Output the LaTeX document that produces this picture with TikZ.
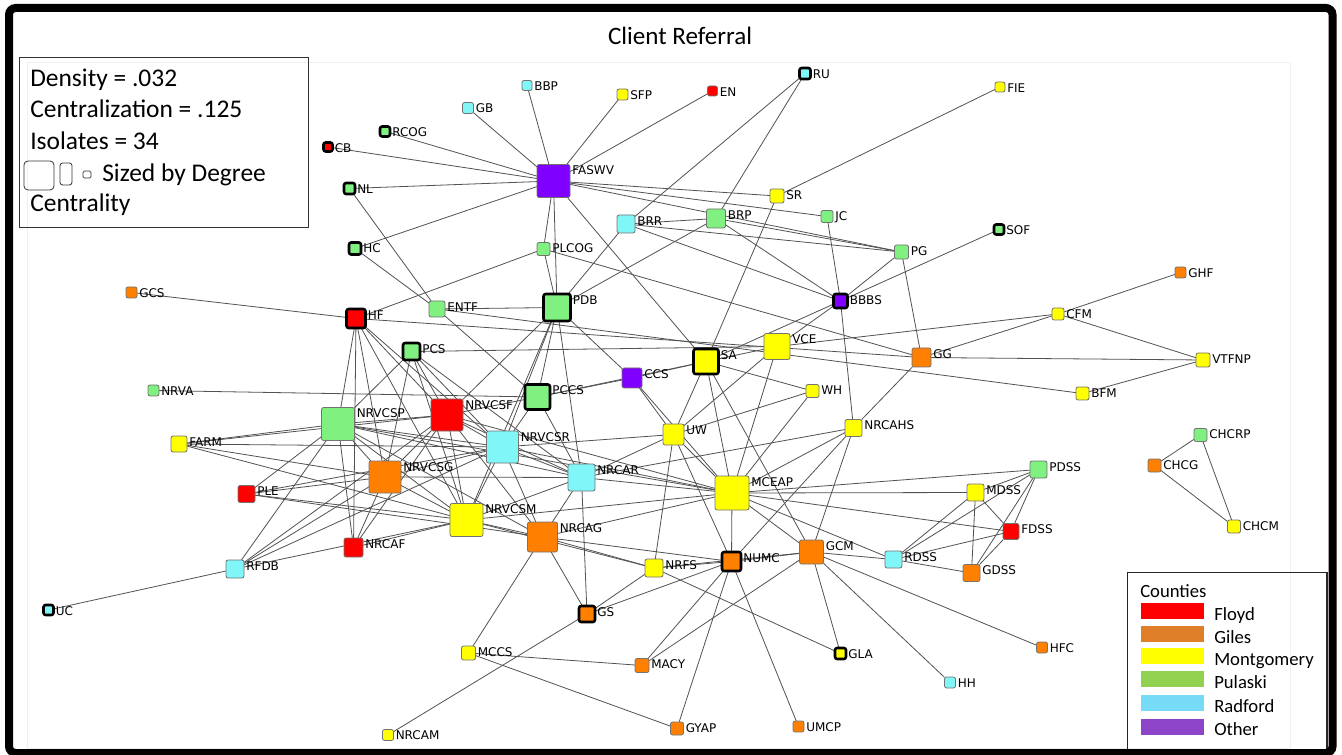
\documentclass[tikz,border=0pt]{standalone}
\usepackage{fontspec}
\setmainfont{Carlito}
\newfontfamily\labelfont{DejaVu Sans}
\usetikzlibrary{calc}
\pgfdeclarelayer{paper}
\pgfdeclarelayer{edges}
\pgfsetlayers{paper,edges,main}

% county fills of the agency squares
\definecolor{nFloyd}{HTML}{FF0000}
\definecolor{nGiles}{HTML}{FF8000}
\definecolor{nMont}{HTML}{FFFF00}
\definecolor{nPulaski}{HTML}{80F080}
\definecolor{nRadford}{HTML}{80F6F8}
\definecolor{nOther}{HTML}{8000FF}
% legend swatches
\definecolor{kFloyd}{HTML}{FF0000}
\definecolor{kGiles}{HTML}{DE7E28}
\definecolor{kMont}{HTML}{FFFF00}
\definecolor{kPulaski}{HTML}{92D050}
\definecolor{kRadford}{HTML}{75DBF7}
\definecolor{kOther}{HTML}{8E44C8}

\tikzset{
  agent/.style={rectangle, inner sep=0pt, outer sep=0pt, rounded corners=1.6pt,
                draw=black!55, line width=0.6pt},
  hub/.style={draw=black, line width=1.9pt},
  fl/.style={fill=nFloyd}, gi/.style={fill=nGiles}, mo/.style={fill=nMont},
  pu/.style={fill=nPulaski}, ra/.style={fill=nRadford}, ot/.style={fill=nOther},
  lbl/.style={anchor=north west, inner sep=0pt, font=\labelfont\fontsize{9}{9}\selectfont,
              text height=6.6pt, text depth=0pt},
  tie/.style={draw=black!68, line width=0.6pt},
  stat/.style={anchor=base west, inner sep=0pt, font=\fontsize{19.1}{22}\selectfont},
  keytext/.style={anchor=base west, inner sep=0pt, font=\fontsize{14}{16}\selectfont},
  swatch/.style={rectangle, inner sep=0pt, minimum width=47.25pt, minimum height=12pt},
  sizer/.style={rectangle, draw=black!80, line width=0.6pt, inner sep=0pt},
}

% agency square with its name printed to the upper right
\newcommand\agency[5]{%
  \node[agent,#5,minimum size=#4*0.75pt] (#1) at (#2,#3) {};
  \node[lbl] (#1-lab) at ($(#1.north east)+(2,1)$) {#1};
}

\begin{document}
\begin{tikzpicture}[x=0.75pt,y=-0.75pt]
\useasboundingbox (0,0) rectangle (1342,755);
\begin{pgfonlayer}{paper}
\fill[white] (0,0) rectangle (1342,755);
\draw[black!6, line width=0.6pt] (27,62) rectangle (1290,748);
\end{pgfonlayer}

% title
\node[anchor=base, inner sep=0pt, font=\fontsize{18.8}{22}\selectfont] (title) at (680,45) {Client Referral};

% ---------- agencies ----------
\agency{FASWV}{553.5}{181}{33}{ot}
\agency{BBP}{527}{85.5}{10}{ra}
\agency{GB}{468}{108}{11}{ra}
\agency{SFP}{622.5}{94.5}{11}{mo}
\agency{EN}{712.5}{91}{10}{fl}
\agency{RU}{805}{73.5}{11}{ra,hub}
\agency{FIE}{1000}{87}{10}{mo}
\agency{RCOG}{385}{131.5}{10}{pu,hub}
\agency{CB}{328}{147}{9}{fl,hub}
\agency{NL}{349.5}{188.5}{11}{pu,hub}
\agency{SR}{777}{196}{14}{mo}
\agency{JC}{827}{216.5}{12}{pu}
\agency{BRR}{626}{224}{18}{ra}
\agency{BRP}{716}{218.5}{19}{pu}
\agency{PLCOG}{543.5}{249}{13}{pu}
\agency{HC}{355}{248.5}{12}{pu,hub}
\agency{SOF}{999}{229.5}{10}{pu,hub}
\agency{PG}{901.5}{252}{14}{pu}
\agency{GHF}{1180.5}{272.5}{11}{gi}
\agency{GCS}{131.5}{292.5}{11}{gi}
\agency{PDB}{557}{307.5}{27}{pu,hub}
\agency{ENTF}{437}{309}{16}{pu}
\agency{HF}{356}{318.5}{19}{fl,hub}
\agency{BBBS}{840.5}{301}{14}{ot,hub}
\agency{CFM}{1058}{314}{12}{mo}
\agency{PCS}{411.5}{351.5}{17}{pu,hub}
\agency{CCS}{632}{378}{20}{ot}
\agency{SA}{706}{361.5}{25}{mo,hub}
\agency{VCE}{777}{346.5}{26}{mo}
\agency{GG}{921.5}{357.5}{19}{gi}
\agency{VTFNP}{1203}{360}{14}{mo}
\agency{BFM}{1082.5}{393.5}{13}{mo}
\agency{NRVA}{153.5}{390.5}{11}{pu}
\agency{WH}{812.5}{391}{13}{mo}
\agency{NRVCSP}{338}{424}{33}{pu}
\agency{NRVCSF}{447}{415}{32}{fl}
\agency{PCCS}{537.5}{397}{25}{pu,hub}
\agency{NRVCSR}{502.5}{447}{32}{ra}
\agency{NRCAHS}{853.5}{428}{17}{mo}
\agency{UW}{673.5}{434.5}{21}{mo}
\agency{FARM}{179}{444}{16}{mo}
\agency{CHCRP}{1200.5}{435}{13}{pu}
\agency{NRCAR}{581.5}{477.5}{27}{ra}
\agency{NRVCSG}{385}{477}{32}{gi}
\agency{MCEAP}{732}{493}{34}{mo}
\agency{PDSS}{1038.5}{469.5}{17}{pu}
\agency{MDSS}{975.5}{492.5}{17}{mo}
\agency{CHCG}{1154.5}{465.5}{13}{gi}
\agency{PLE}{246.5}{494}{17}{fl}
\agency{CHCM}{1234}{526.5}{13}{mo}
\agency{NRVCSM}{466.5}{520}{33}{mo}
\agency{FDSS}{1011}{531.5}{16}{fl}
\agency{NRCAG}{542.5}{537}{30}{gi}
\agency{NRCAF}{353.5}{547.5}{19}{fl}
\agency{GCM}{811.5}{552}{24}{gi}
\agency{NUMC}{731.5}{561.5}{19}{gi,hub}
\agency{RDSS}{893.5}{559.5}{17}{ra}
\agency{GDSS}{971.5}{573}{17}{gi}
\agency{NRFS}{654}{568}{18}{mo}
\agency{RFDB}{235}{569}{18}{ra}
\agency{UC}{48.5}{610}{10}{ra,hub}
\agency{GS}{587}{614}{16}{gi,hub}
\agency{MCCS}{468.5}{653}{14}{mo}
\agency{MACY}{642}{665.5}{14}{gi}
\agency{GLA}{840.5}{653.5}{11}{mo,hub}
\agency{HFC}{1042}{647.5}{11}{gi}
\agency{HH}{950}{682.5}{11}{ra}
\agency{GYAP}{677}{728.5}{13}{gi}
\agency{UMCP}{798.5}{726.5}{11}{gi}
\agency{NRCAM}{388}{735}{11}{mo}

% ---------- referral ties ----------
\begin{pgfonlayer}{edges}
\foreach \a/\b in {
  FASWV/BBP, FASWV/GB, FASWV/SFP, FASWV/EN, FASWV/RCOG, FASWV/CB, FASWV/NL,
  FASWV/HC, FASWV/PLCOG, FASWV/PDB, FASWV/SA, FASWV/SR, FASWV/JC, FASWV/PG,
  RU/BRR, RU/BRP, FIE/SR, SR/SA, JC/BBBS,
  BRR/BRP, BRR/PG, BRR/PDB, BRR/BBBS, BRP/PG, BRP/BBBS, BRP/PDB,
  PG/BBBS, PG/GG, SOF/BBBS, BBBS/NRCAHS, BBBS/SA, BBBS/VCE,
  PLCOG/HF, PLCOG/PDB, PLCOG/GG, GCS/HF,
  HC/ENTF, NL/ENTF, ENTF/PDB, ENTF/PCCS, ENTF/BFM,
  HF/GG, HF/NRVCSP, HF/NRVCSF, HF/NRVCSG, HF/NRVCSR, HF/NRVCSM, HF/NRCAF,
  PCS/VCE, PCS/NRVCSP, PCS/NRVCSF, PCS/NRVCSR, PCS/NRVCSG, PCS/NRVCSM, PCS/NRCAR,
  PDB/NRVCSF, PDB/NRVCSR, PDB/NRVCSM, PDB/NRCAR, PDB/CCS, PDB/PCCS,
  CCS/PCCS, CCS/SA, CCS/UW, CCS/MCEAP, PCCS/SA,
  PCCS/NRVCSR, PCCS/NRVCSF, PCCS/NRCAR, NRVA/PCCS,
  SA/VCE, SA/UW, SA/MCEAP, SA/GCM, SA/WH,
  VCE/UW, VCE/MCEAP, VCE/CFM,
  GG/CFM, GG/VTFNP, GG/NRCAHS, CFM/GHF, CFM/VTFNP, BFM/VTFNP,
  WH/UW, WH/MCEAP,
  NRCAHS/MCEAP, NRCAHS/NRCAR, NRCAHS/GCM, NRCAHS/NUMC,
  UW/MCEAP, UW/NRFS, UW/NUMC, UW/NRCAR, UW/NRVCSR,
  MCEAP/NRCAR, MCEAP/NRVCSR, MCEAP/NRVCSF, MCEAP/NRVCSP, MCEAP/NRVCSM,
  MCEAP/NRCAG, MCEAP/PDSS, MCEAP/MDSS, MCEAP/FDSS, MCEAP/RDSS, MCEAP/GCM, MCEAP/NUMC,
  PDSS/MDSS, PDSS/FDSS, PDSS/RDSS, PDSS/GDSS, MDSS/FDSS, MDSS/RDSS, MDSS/GDSS,
  FDSS/RDSS, FDSS/GDSS, RDSS/GDSS,
  GCM/RDSS, GCM/NUMC, GCM/GLA, GCM/HH, GCM/HFC, GCM/MACY, GCM/NRFS,
  NUMC/UMCP, NUMC/GYAP, NUMC/MACY, NUMC/GS, NUMC/NRFS, NUMC/NRCAG,
  NRFS/GLA, NRFS/NRCAG, NRFS/GS, NRFS/NRVCSM,
  GS/NRCAG, GS/NRCAR, GS/NRCAM,
  MCCS/NRCAG, MCCS/MACY, MCCS/GYAP,
  CHCRP/CHCG, CHCRP/CHCM, CHCG/CHCM,
  RFDB/UC, RFDB/NRVCSP, RFDB/NRVCSF, RFDB/NRVCSG, RFDB/NRVCSR, RFDB/NRVCSM,
  PLE/NRVCSP, PLE/NRVCSG, PLE/NRVCSR, PLE/NRVCSM, PLE/NRCAG,
  FARM/NRVCSP, FARM/NRVCSF, FARM/NRVCSR, FARM/NRVCSG, FARM/NRVCSM,
  NRVCSP/NRVCSF, NRVCSP/NRVCSR, NRVCSP/NRVCSG, NRVCSP/NRVCSM, NRVCSP/NRCAR,
  NRVCSP/NRCAG, NRVCSP/NRCAF,
  NRVCSF/NRVCSR, NRVCSF/NRVCSG, NRVCSF/NRVCSM, NRVCSF/NRCAR, NRVCSF/NRCAG, NRVCSF/NRCAF,
  NRVCSR/NRVCSG, NRVCSR/NRVCSM, NRVCSR/NRCAR, NRVCSR/NRCAG,
  NRVCSG/NRVCSM, NRVCSG/NRCAR, NRVCSG/NRCAF,
  NRVCSM/NRCAR, NRVCSM/NRCAG, NRVCSM/NRCAF, NRCAR/NRCAG}
  \draw[tie] (\a) -- (\b);
\end{pgfonlayer}

% ---------- network statistics ----------
\draw[black!80, line width=0.75pt] (19.5,57.5) rectangle (308.5,227.5);
\node[stat] (density) at (30,87) {Density = .032};
\node[stat] (central) at (30,118) {Centralization = .125};
\node[stat] (isol) at (30,150) {Isolates = 34};
\node[sizer, rounded corners=3pt, minimum width=22.5pt, minimum height=21.75pt] (szbig) at (39,175.5) {};
\node[sizer, rounded corners=2pt, minimum width=9pt, minimum height=16.5pt] (szmid) at (66,174) {};
\node[sizer, rounded corners=1pt, minimum width=6pt, minimum height=5.25pt] (szsmall) at (87,174.5) {};
\node[stat] (sized) at (102,182) {Sized by Degree};
\node[stat] (centr) at (30,212) {Centrality};

% ---------- county key ----------
\draw[black!85, line width=0.9pt] (1127.5,572.5) rectangle (1327,752);
\node[keytext] (keyhead) at (1140,597) {Counties};
\node[swatch, fill=kFloyd]   (swF) at (1172.5,611) {};
\node[swatch, fill=kGiles]   (swG) at (1172.5,634) {};
\node[swatch, fill=kMont]    (swM) at (1172.5,656) {};
\node[swatch, fill=kPulaski] (swP) at (1172.5,679) {};
\node[swatch, fill=kRadford] (swR) at (1172.5,703) {};
\node[swatch, fill=kOther]   (swO) at (1172.5,727) {};
\node[keytext] (kF) at (1214,620) {Floyd};
\node[keytext] (kG) at (1214,643) {Giles};
\node[keytext] (kM) at (1214,665) {Montgomery};
\node[keytext] (kP) at (1214,688) {Pulaski};
\node[keytext] (kR) at (1214,712) {Radford};
\node[keytext] (kO) at (1214,735) {Other};

% outer frame
\draw[black, line width=6pt, rounded corners=5pt] (9,8) rectangle (1332.5,753);
\end{tikzpicture}
\end{document}
